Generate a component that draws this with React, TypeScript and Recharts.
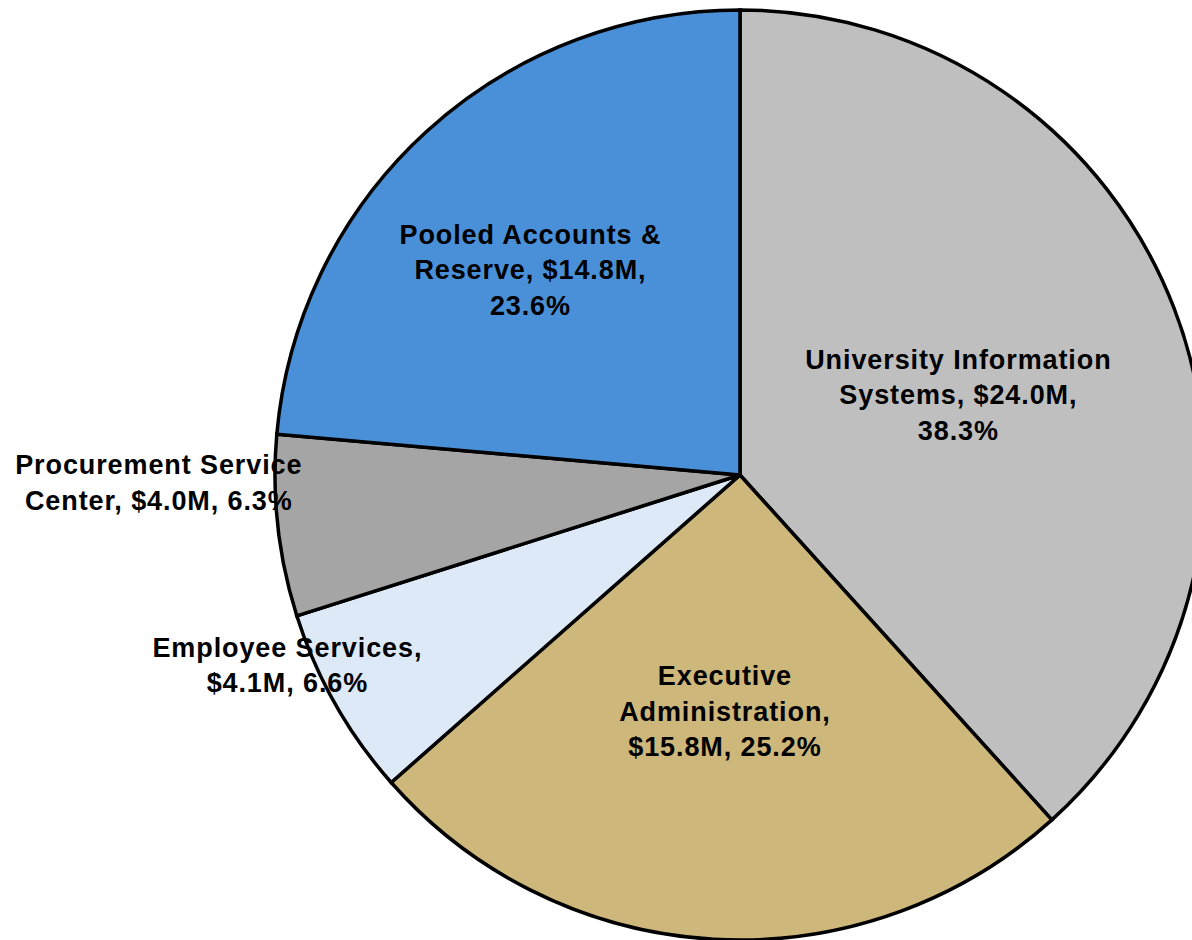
import React from "react";
import { PieChart, Pie, Cell } from "recharts";

// clockwise from 12 o'clock
const units = [
  "University Information Systems",
  "Executive Administration",
  "Employee Services",
  "Procurement Service Center",
  "Pooled Accounts & Reserve",
];
const amounts = ["$24.0M", "$15.8M", "$4.1M", "$4.0M", "$14.8M"];
const shares = [38.3, 25.2, 6.6, 6.3, 23.6];

// how each label was wrapped in the original
const labelLines = [
  ["University Information", "Systems, $24.0M,", "38.3%"],
  ["Executive", "Administration,", "$15.8M, 25.2%"],
  ["Employee Services,", "$4.1M, 6.6%"],
  ["Procurement Service", "Center, $4.0M, 6.3%"],
  ["Pooled Accounts &", "Reserve, $14.8M,", "23.6%"],
];

const colors = ["#bfbfbf", "#cdb77b", "#dde9f6", "#a5a5a5", "#4a90d9"];

// label distance (share of radius) and angle nudge in degrees
const labelPlacement = [
  { r: 0.5, shift: -1 },
  { r: 0.51, shift: -0.4 },
  { r: 1.056, shift: -6.7 },
  { r: 1.25, shift: -5.5 },
  { r: 0.63, shift: 3.2 },
];

const data = units.map((name, i) => ({
  name,
  amount: amounts[i],
  value: shares[i],
}));

const RAD = Math.PI / 180;
const LINE_H = 35.5;

const renderLabel = (props: any) => {
  const { cx, cy, midAngle, outerRadius, index } = props;
  const p = labelPlacement[index];
  const a = (midAngle + p.shift) * RAD;
  const x = cx + outerRadius * p.r * Math.cos(a);
  const y = cy - outerRadius * p.r * Math.sin(a);
  const lines = labelLines[index];
  const top = y - ((lines.length - 1) * LINE_H) / 2;
  return (
    <text
      key={`lbl-${index}`}
      x={x}
      y={top}
      textAnchor="middle"
      dominantBaseline="central"
      fill="#000"
      fontSize={27}
      fontWeight="bold"
      letterSpacing={0.9}
      fontFamily="'Liberation Sans', Arial, sans-serif"
    >
      {lines.map((l, j) => (
        <tspan key={j} x={x} dy={j === 0 ? 0 : LINE_H}>
          {l}
        </tspan>
      ))}
    </text>
  );
};

export default function App() {
  return (
    <div
      style={{
        position: "absolute",
        left: 0,
        top: 0,
        width: 1192,
        height: 940,
        overflow: "hidden",
        background: "#fff",
      }}
    >
      <PieChart
        width={1192}
        height={940}
        margin={{ top: 0, right: 0, bottom: 0, left: 0 }}
      >
        <Pie
          data={data}
          dataKey="value"
          nameKey="name"
          cx={740}
          cy={475}
          outerRadius={465}
          startAngle={90}
          endAngle={-270}
          stroke="#000"
          strokeWidth={3.5}
          label={renderLabel}
          labelLine={false}
          isAnimationActive={false}
        >
          {data.map((d, i) => (
            <Cell key={d.name} fill={colors[i]} />
          ))}
        </Pie>
      </PieChart>
    </div>
  );
}
